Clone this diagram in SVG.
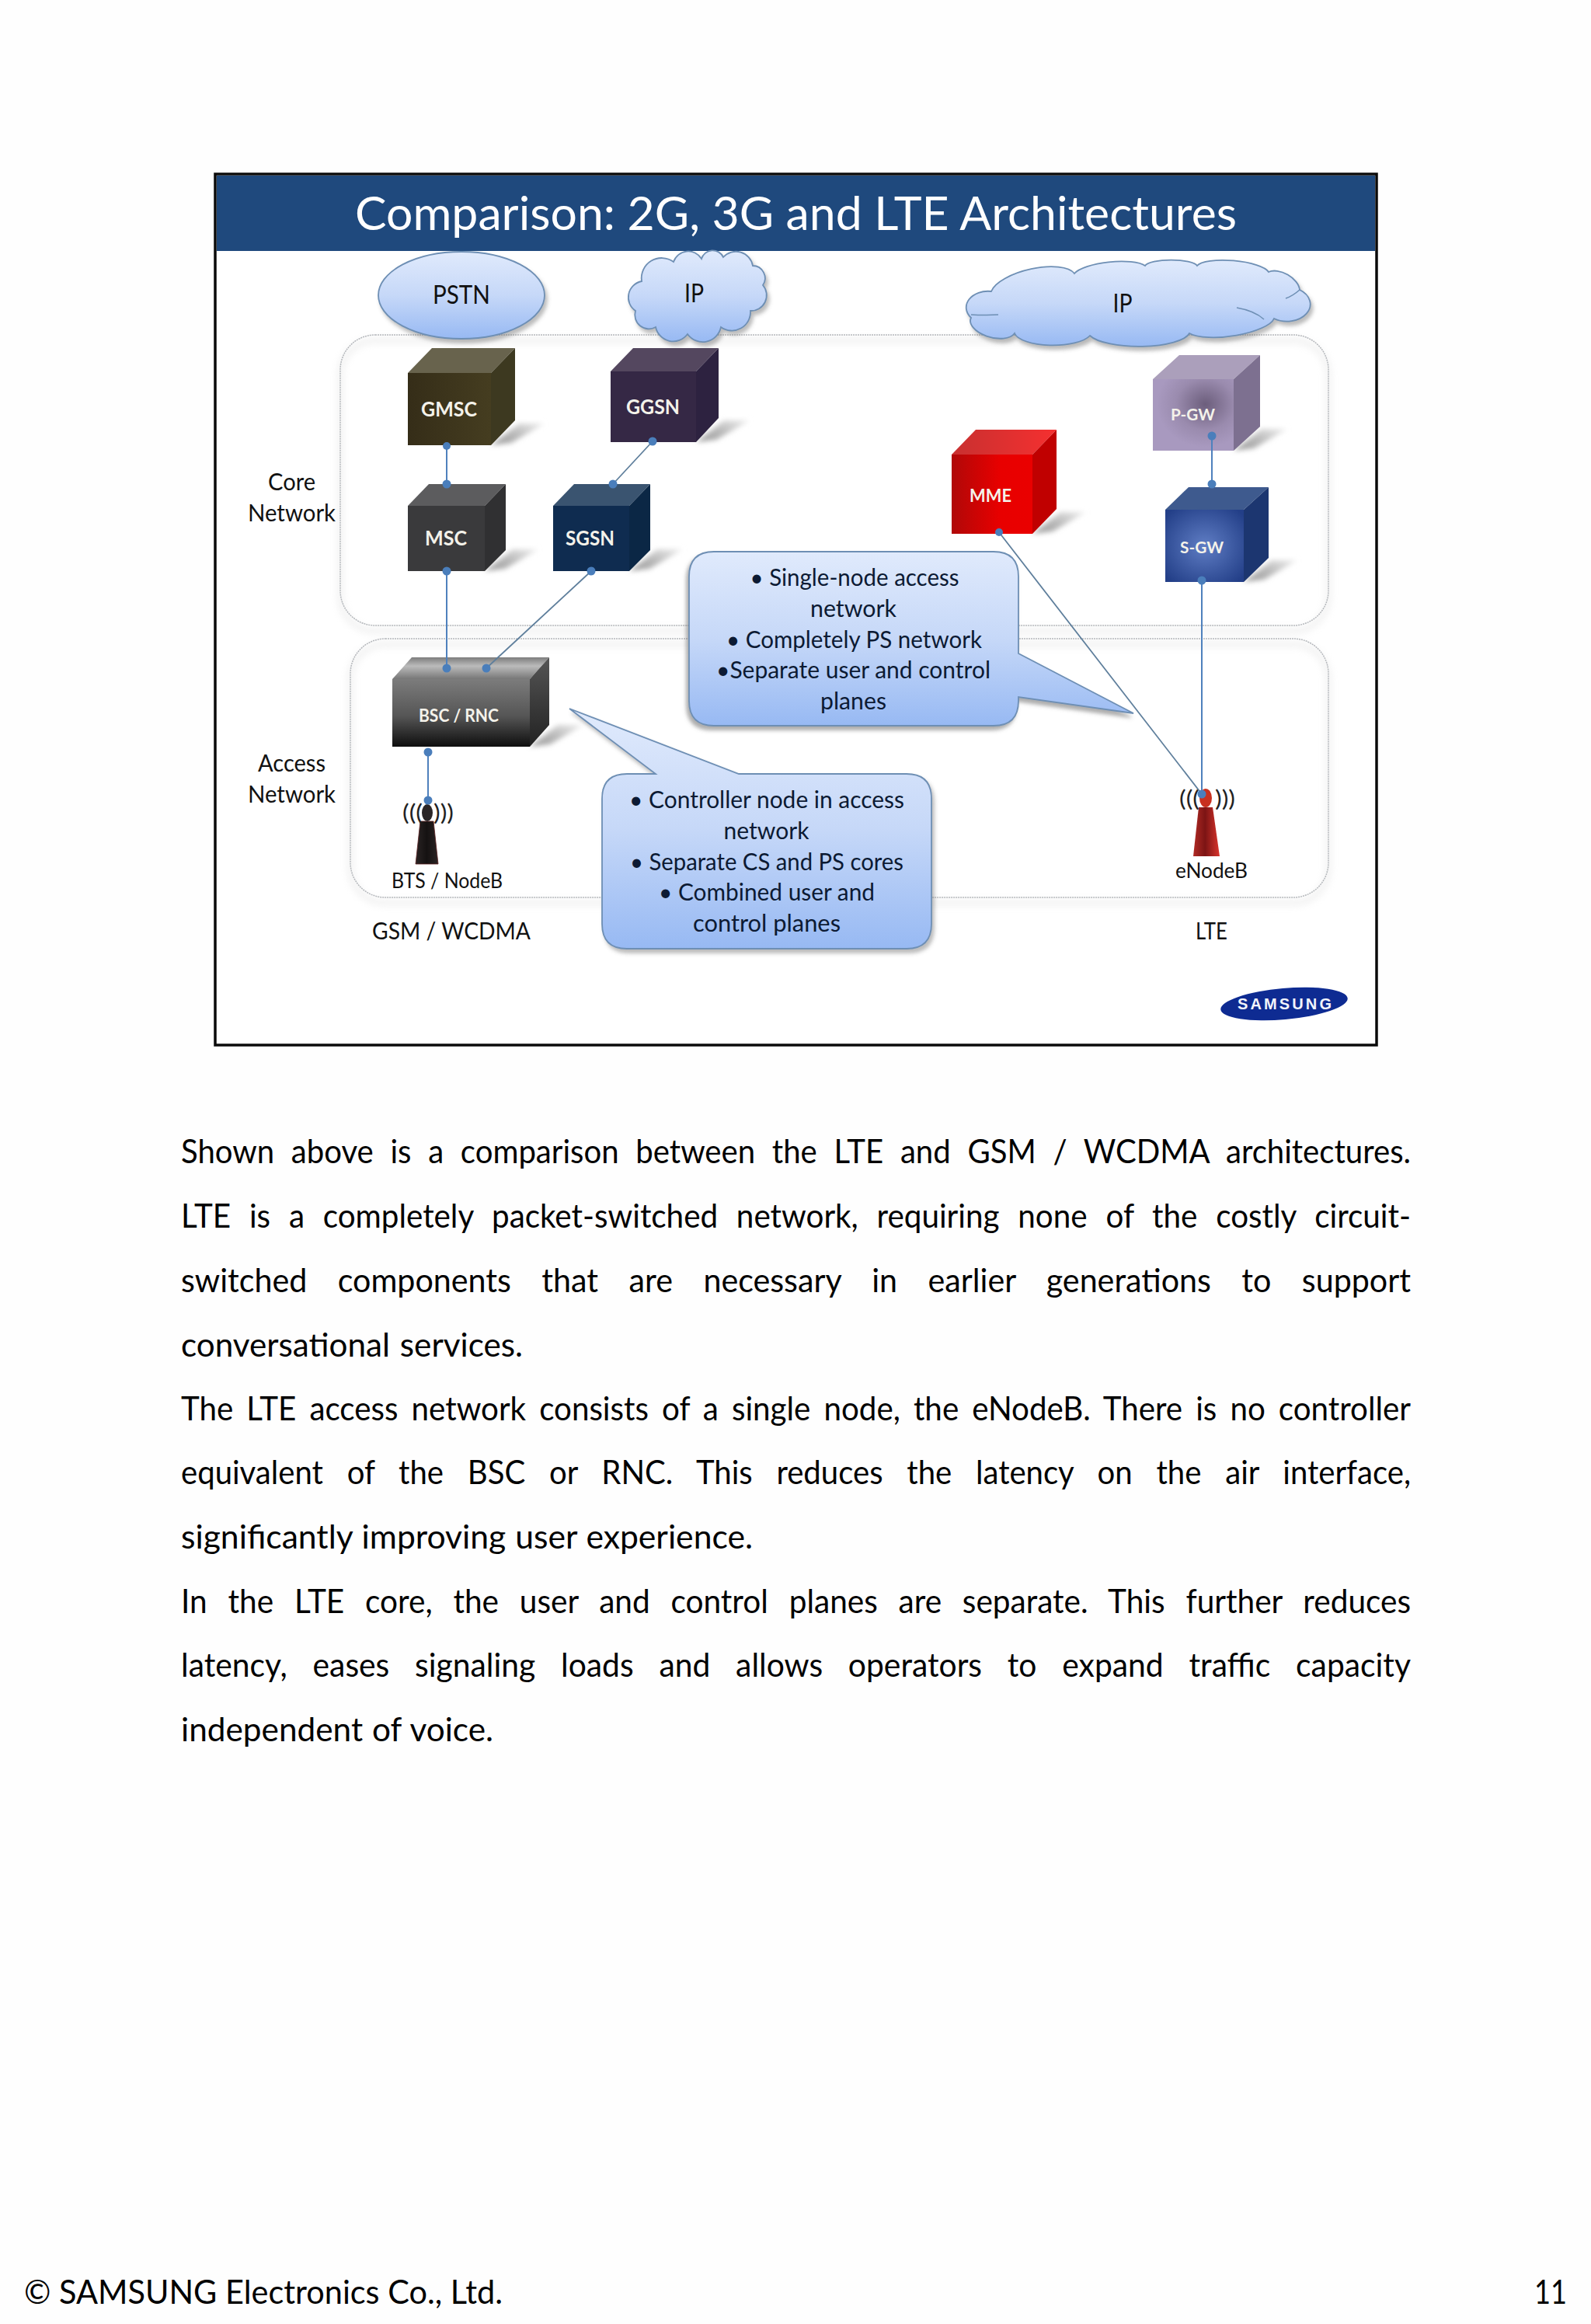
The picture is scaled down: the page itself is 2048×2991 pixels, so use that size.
<svg xmlns="http://www.w3.org/2000/svg" width="2048" height="2991" viewBox="0 0 2048 2991">
<style>
text{font-family:"Lato","Carlito","Liberation Sans",sans-serif;fill:#111}
.title{font-size:60px;fill:#fff}
.lb{font-size:31px;text-anchor:middle}
.cl{font-size:31.5px;text-anchor:middle;fill:#0c1a33}
.cu{font-weight:700;fill:#f4f2ea;text-anchor:middle}
.body{font-size:42px;fill:#000}
.wave{font-size:28px;fill:#222}
.ct{fill:none;stroke:#b5b8bc;stroke-width:1.5;stroke-dasharray:2 1}
.glow{fill:none;stroke:#d9d9d9;stroke-width:9;opacity:.3;filter:url(#b4)}
.blue{stroke:#6e8fb4;stroke-width:1.8;fill:url(#bg)}
.cline{stroke:#4f81bd;stroke-width:2;fill:none}
.dline{stroke:#5f7f9c;stroke-width:1.8;fill:none}
.dot{fill:#4a7ebb}
.curl{fill:none;stroke:#6e8fb4;stroke-width:1.6}
.sh{fill:url(#shg);filter:url(#b2)}
</style>
<defs>
<linearGradient id="bg" x1="0" y1="0" x2="0" y2="1"><stop offset="0" stop-color="#e0eafc"/><stop offset=".5" stop-color="#c6d8f8"/><stop offset="1" stop-color="#97b9f3"/></linearGradient>
<linearGradient id="shg" x1="0" y1="1" x2="1" y2="0"><stop offset="0" stop-color="#9a9a9a"/><stop offset=".5" stop-color="#bcbcbc"/><stop offset="1" stop-color="#f0f0f0"/></linearGradient>
<linearGradient id="gmf" x1="0" y1="0" x2="1" y2="0"><stop offset="0" stop-color="#352d18"/><stop offset="1" stop-color="#453d20"/></linearGradient>
<linearGradient id="bsf" x1="0" y1="0" x2="0" y2="1"><stop offset="0" stop-color="#7c7c7c"/><stop offset=".55" stop-color="#555"/><stop offset="1" stop-color="#0e0e0e"/></linearGradient>
<linearGradient id="bst" x1="0" y1="0" x2="0" y2="1"><stop offset="0" stop-color="#7d7d7d"/><stop offset=".4" stop-color="#bbb"/><stop offset="1" stop-color="#777"/></linearGradient>
<linearGradient id="bss" x1="0" y1="0" x2="0" y2="1"><stop offset="0" stop-color="#555"/><stop offset="1" stop-color="#222"/></linearGradient>
<linearGradient id="mmf" x1="0" y1="0" x2="1" y2="0"><stop offset="0" stop-color="#b00808"/><stop offset=".6" stop-color="#e80000"/><stop offset="1" stop-color="#ea0000"/></linearGradient>
<linearGradient id="mmt" x1="0" y1="0" x2="1" y2="0"><stop offset="0" stop-color="#c83030"/><stop offset="1" stop-color="#f53030"/></linearGradient>
<radialGradient id="pgf" cx=".65" cy=".35" r=".6"><stop offset="0" stop-color="#6c5e7c"/><stop offset=".6" stop-color="#9a8bae"/><stop offset="1" stop-color="#a899bf"/></radialGradient>
<radialGradient id="sgf" cx=".5" cy=".5" r=".65"><stop offset="0" stop-color="#5f7dc4"/><stop offset="1" stop-color="#233f88"/></radialGradient>
<linearGradient id="tw1" x1="0" y1="0" x2="1" y2="0"><stop offset="0" stop-color="#2a2424"/><stop offset=".5" stop-color="#151212"/><stop offset="1" stop-color="#2a2222"/></linearGradient>
<linearGradient id="tw2" x1="0" y1="0" x2="1" y2="0"><stop offset="0" stop-color="#b02a24"/><stop offset=".45" stop-color="#7c1414"/><stop offset="1" stop-color="#d9342c"/></linearGradient>
<filter id="b2" x="-30%" y="-30%" width="160%" height="160%"><feGaussianBlur stdDeviation="3"/></filter>
<filter id="b4" x="-5%" y="-5%" width="110%" height="110%"><feGaussianBlur stdDeviation="4"/></filter>
<filter id="ds" x="-5%" y="-5%" width="112%" height="115%"><feDropShadow dx="-3" dy="5" stdDeviation="2.5" flood-color="#6b6b6b" flood-opacity=".55"/></filter>
<filter id="ds2" x="-5%" y="-5%" width="112%" height="115%"><feDropShadow dx="3" dy="5" stdDeviation="2.5" flood-color="#6b6b6b" flood-opacity=".45"/></filter>
<polygon id="shadow" points="0,0 36,-28 69,-28 26,-3"/>
</defs>

<rect width="2048" height="2991" fill="#fefefe"/>

<g id="frame">
<rect x="277" y="224" width="1495" height="1121" fill="#fff" stroke="#0a0a0a" stroke-width="3.5"/>
<rect x="279" y="226" width="1491" height="97" fill="#1f497d"/>
<text class="title" x="457" y="296" textLength="1135" lengthAdjust="spacingAndGlyphs">Comparison: 2G, 3G and LTE Architectures</text>
</g>

<g id="containers">
<rect class="glow" x="438" y="438" width="1272" height="374" rx="45"/>
<rect class="glow" x="451" y="829" width="1259" height="333" rx="45"/>
<rect class="ct" x="438" y="431" width="1272" height="374" rx="45"/>
<rect class="ct" x="451" y="822" width="1259" height="333" rx="45"/>
</g>

<g id="pstn">
<ellipse class="blue" cx="594" cy="380" rx="107" ry="56" filter="url(#ds2)"/>
<text class="lb" x="594" y="391" style="font-size:33px" textLength="74" lengthAdjust="spacingAndGlyphs">PSTN</text>
</g>
<g id="ip-left">
<path class="blue" filter="url(#ds2)" d="M826,362 A26,26 0 0 1 867,337 A20,20 0 0 1 903,333 A15,15 0 0 1 931,331 A22,22 0 0 1 969,342 A16,16 0 0 1 982,367 A20,20 0 0 1 966,400 A24,24 0 0 1 928,421 A24,24 0 0 1 885,430 A23,23 0 0 1 844,421 A18,18 0 0 1 818,400 A21,21 0 0 1 826,362 Z"/>
<text class="lb" x="893.5" y="389" style="font-size:33px" textLength="25" lengthAdjust="spacingAndGlyphs">IP</text>
</g>
<g id="ip-right">
<path class="blue" filter="url(#ds2)" d="M1276,375 A56,22 -13 0 1 1383,352 A48,14 -6 0 1 1474,342 A34,9 0 0 1 1541,342 A47,13 5 0 1 1633,350 A25,15 30 0 1 1673,373 A30,22 0 0 1 1640,410 A58,18 -8 0 1 1531,429 A66,20 0 0 1 1403,432 A50,18 0 0 1 1306,429 A30,16 15 0 1 1250,409 A28,21 0 0 1 1276,375 Z"/>
<path class="curl" d="M1655,384 Q1664,381 1673,373 M1592,396 Q1615,400 1627,411 M1250,405 Q1268,406 1285,405"/>
<text class="lb" x="1445" y="402" style="font-size:33px" textLength="25" lengthAdjust="spacingAndGlyphs">IP</text>
</g>

<g id="gmsc">
<use href="#shadow" class="sh" x="632" y="573"/>
<polygon points="525,480 556,448 663,448 632,480" fill="#68634d"/>
<polygon points="632,480 663,448 663,541 632,573" fill="#3d3920"/>
<rect x="525" y="480" width="107" height="93" fill="url(#gmf)"/>
<text class="cu" x="578" y="536" style="font-size:26px" textLength="72" lengthAdjust="spacingAndGlyphs">GMSC</text>
</g>
<g id="ggsn">
<use href="#shadow" class="sh" x="896" y="569"/>
<polygon points="786,478 815,448 925,448 896,478" fill="#54475f"/>
<polygon points="896,478 925,448 925,538 896,569" fill="#2d2240"/>
<rect x="786" y="478" width="110" height="91" fill="#352845"/>
<text class="cu" x="840.5" y="533" style="font-size:26px" textLength="69" lengthAdjust="spacingAndGlyphs">GGSN</text>
</g>
<g id="msc">
<use href="#shadow" class="sh" x="624" y="735"/>
<polygon points="525,651 552,623 651,623 624,651" fill="#5c5c5e"/>
<polygon points="624,651 651,623 651,708 624,735" fill="#303032"/>
<rect x="525" y="651" width="99" height="84" fill="#3a3a3c"/>
<text class="cu" x="574" y="702" style="font-size:26px" textLength="54" lengthAdjust="spacingAndGlyphs">MSC</text>
</g>
<g id="sgsn">
<use href="#shadow" class="sh" x="810" y="735"/>
<polygon points="712,651 739,623 837,623 810,651" fill="#3a5470"/>
<polygon points="810,651 837,623 837,708 810,735" fill="#0b2745"/>
<rect x="712" y="651" width="98" height="84" fill="#0f2c50"/>
<text class="cu" x="759.5" y="702" style="font-size:26px" textLength="63" lengthAdjust="spacingAndGlyphs">SGSN</text>
</g>
<g id="mme">
<use href="#shadow" class="sh" x="1329" y="687"/>
<polygon points="1225,585 1256,553 1360,553 1329,585" fill="url(#mmt)"/>
<polygon points="1329,585 1360,553 1360,655 1329,687" fill="#c00000"/>
<rect x="1225" y="585" width="104" height="102" fill="url(#mmf)"/>
<text class="cu" x="1275" y="646" style="font-size:23px" textLength="54" lengthAdjust="spacingAndGlyphs">MME</text>
</g>
<g id="p-gw">
<use href="#shadow" class="sh" x="1588" y="580"/>
<polygon points="1484,488 1518,457 1622,457 1588,488" fill="#ab9fbb"/>
<polygon points="1588,488 1622,457 1622,549 1588,580" fill="#7d7090"/>
<rect x="1484" y="488" width="104" height="92" fill="url(#pgf)"/>
<text class="cu" x="1535.5" y="541" style="font-size:21px" textLength="57" lengthAdjust="spacingAndGlyphs">P-GW</text>
</g>
<g id="s-gw">
<use href="#shadow" class="sh" x="1601" y="749"/>
<polygon points="1500,656 1530,627 1633,627 1601,656" fill="#3e5a8e"/>
<polygon points="1601,656 1633,627 1633,718 1601,749" fill="#1c3670"/>
<rect x="1500" y="656" width="101" height="93" fill="url(#sgf)"/>
<text class="cu" x="1547" y="712" style="font-size:21px" textLength="56" lengthAdjust="spacingAndGlyphs">S-GW</text>
</g>
<g id="bsc-rnc">
<use href="#shadow" class="sh" x="682" y="961"/>
<polygon points="505,874 530,846 707,846 682,874" fill="url(#bst)"/>
<polygon points="682,874 707,846 707,933 682,961" fill="url(#bss)"/>
<rect x="505" y="874" width="177" height="87" fill="url(#bsf)"/>
<text class="cu" x="590.5" y="929" style="font-size:23px" textLength="103" lengthAdjust="spacingAndGlyphs">BSC / RNC</text>
</g>
<g id="bts-nodeb">
<polygon points="541,1057 558,1057 564,1112 535,1112" fill="url(#tw1)" stroke="#5a2020" stroke-width=".8"/>
<ellipse cx="550" cy="1046" rx="7" ry="11" fill="#2a2526"/>
<text class="wave" x="518" y="1056" textLength="26" lengthAdjust="spacingAndGlyphs">(((</text>
<text class="wave" x="558" y="1056" textLength="26" lengthAdjust="spacingAndGlyphs">)))</text>
<text class="lb" x="575.5" y="1143" style="font-size:27px" textLength="143" lengthAdjust="spacingAndGlyphs">BTS / NodeB</text>
</g>
<g id="enodeb">
<polygon points="1543,1039 1561,1039 1570,1102 1536,1102" fill="url(#tw2)"/>
<ellipse cx="1552" cy="1027" rx="8" ry="12" fill="#c8301f"/>
<text class="wave" x="1518" y="1038" textLength="26" lengthAdjust="spacingAndGlyphs">(((</text>
<text class="wave" x="1564" y="1038" textLength="26" lengthAdjust="spacingAndGlyphs">)))</text>
<text class="lb" x="1559.5" y="1130" style="font-size:27px" textLength="93" lengthAdjust="spacingAndGlyphs">eNodeB</text>
</g>

<g id="connectors">
<path class="cline" d="M575,574 V623 M575,735 V860 M551,968 V1030 M1560,561 V623 M1547,747 V1022"/>
<path class="dline" d="M840,568 L789,623 M761,735 L626,860 M1286,685 L1547,1022"/>
<g class="dot">
<circle cx="575" cy="574" r="5"/><circle cx="575" cy="623" r="5.5"/><circle cx="840" cy="568" r="5.5"/><circle cx="789" cy="623" r="5.5"/>
<circle cx="575" cy="735" r="5.5"/><circle cx="761" cy="735" r="5.5"/><circle cx="575" cy="860" r="5.5"/><circle cx="626" cy="860" r="5.5"/>
<circle cx="551" cy="968" r="5.5"/><circle cx="551" cy="1030" r="5.5"/><circle cx="1286" cy="685" r="5"/><circle cx="1547" cy="1022" r="5.5"/>
<circle cx="1547" cy="747" r="5.5"/><circle cx="1560" cy="561" r="5.5"/><circle cx="1560" cy="623" r="5.5"/>
</g>
</g>

<g id="callout-lte">
<path class="blue" filter="url(#ds)" d="M919,710 H1279 Q1311,710 1311,742 V841 L1459,918 L1311,897 V902 Q1311,934 1279,934 H919 Q887,934 887,902 V742 Q887,710 919,710 Z"/>
<text class="cl" x="1100" y="754" textLength="269" lengthAdjust="spacingAndGlyphs">• Single-node access</text>
<text class="cl" x="1098.5" y="794" textLength="111" lengthAdjust="spacingAndGlyphs">network</text>
<text class="cl" x="1099.5" y="834" textLength="329" lengthAdjust="spacingAndGlyphs">• Completely PS network</text>
<text class="cl" x="1098.5" y="873" textLength="353" lengthAdjust="spacingAndGlyphs">•Separate user and control</text>
<text class="cl" x="1098.5" y="913" textLength="85" lengthAdjust="spacingAndGlyphs">planes</text>
</g>
<g id="callout-gsm">
<path class="blue" filter="url(#ds2)" d="M807,996 H844 L733,912 L951,996 H1167 Q1199,996 1199,1028 V1189 Q1199,1221 1167,1221 H807 Q775,1221 775,1189 V1028 Q775,996 807,996 Z"/>
<text class="cl" x="987" y="1040" textLength="354" lengthAdjust="spacingAndGlyphs">• Controller node in access</text>
<text class="cl" x="986.5" y="1080" textLength="110" lengthAdjust="spacingAndGlyphs">network</text>
<text class="cl" x="987" y="1120" textLength="352" lengthAdjust="spacingAndGlyphs">• Separate CS and PS cores</text>
<text class="cl" x="987" y="1159" textLength="278" lengthAdjust="spacingAndGlyphs">• Combined user and</text>
<text class="cl" x="987" y="1199" textLength="190" lengthAdjust="spacingAndGlyphs">control planes</text>
</g>

<g id="labels">
<text class="lb" x="375.5" y="631" textLength="61" lengthAdjust="spacingAndGlyphs">Core</text>
<text class="lb" x="375.5" y="671" textLength="113" lengthAdjust="spacingAndGlyphs">Network</text>
<text class="lb" x="375.5" y="993" textLength="87" lengthAdjust="spacingAndGlyphs">Access</text>
<text class="lb" x="375.5" y="1033" textLength="113" lengthAdjust="spacingAndGlyphs">Network</text>
<text class="lb" x="581" y="1209" textLength="204" lengthAdjust="spacingAndGlyphs">GSM / WCDMA</text>
<text class="lb" x="1559.5" y="1209" textLength="41" lengthAdjust="spacingAndGlyphs">LTE</text>
</g>

<g id="samsung-logo">
<ellipse cx="1653" cy="1292" rx="82" ry="20" transform="rotate(-5 1653 1292)" fill="#0e2b92"/>
<text x="1593" y="1299" textLength="121" lengthAdjust="spacing" style="font-family:'Liberation Sans',sans-serif;font-size:20px;font-weight:700;fill:#f2f4fb">SAMSUNG</text>
</g>

<g id="body-text">
<text class="body" x="233" y="1497" style="word-spacing:12px" textLength="1583" lengthAdjust="spacingAndGlyphs">Shown above is a comparison between the LTE and GSM / WCDMA architectures.</text>
<text class="body" x="233" y="1580" style="word-spacing:14px" textLength="1583" lengthAdjust="spacingAndGlyphs">LTE is a completely packet-switched network, requiring none of the costly circuit-</text>
<text class="body" x="233" y="1663" style="word-spacing:29.5px" textLength="1583" lengthAdjust="spacingAndGlyphs">switched components that are necessary in earlier generations to support</text>
<text class="body" x="233" y="1746" style="word-spacing:2px" textLength="440" lengthAdjust="spacingAndGlyphs">conversational services.</text>
<text class="body" x="233" y="1828" style="word-spacing:7px" textLength="1583" lengthAdjust="spacingAndGlyphs">The LTE access network consists of a single node, the eNodeB. There is no controller</text>
<text class="body" x="233" y="1910" style="word-spacing:21.5px" textLength="1583" lengthAdjust="spacingAndGlyphs">equivalent of the BSC or RNC. This reduces the latency on the air interface,</text>
<text class="body" x="233" y="1993" style="word-spacing:1px" textLength="736" lengthAdjust="spacingAndGlyphs">significantly improving user experience.</text>
<text class="body" x="233" y="2076" style="word-spacing:17px" textLength="1583" lengthAdjust="spacingAndGlyphs">In the LTE core, the user and control planes are separate. This further reduces</text>
<text class="body" x="233" y="2158" style="word-spacing:23px" textLength="1583" lengthAdjust="spacingAndGlyphs">latency, eases signaling loads and allows operators to expand traffic capacity</text>
<text class="body" x="233" y="2241" style="word-spacing:1px" textLength="402" lengthAdjust="spacingAndGlyphs">independent of voice.</text>
</g>

<g id="footer">
<text class="body" x="31" y="2965" textLength="616" lengthAdjust="spacingAndGlyphs">© SAMSUNG Electronics Co., Ltd.</text>
<text class="body" x="1975" y="2965" textLength="42" lengthAdjust="spacingAndGlyphs">11</text>
</g>
</svg>
